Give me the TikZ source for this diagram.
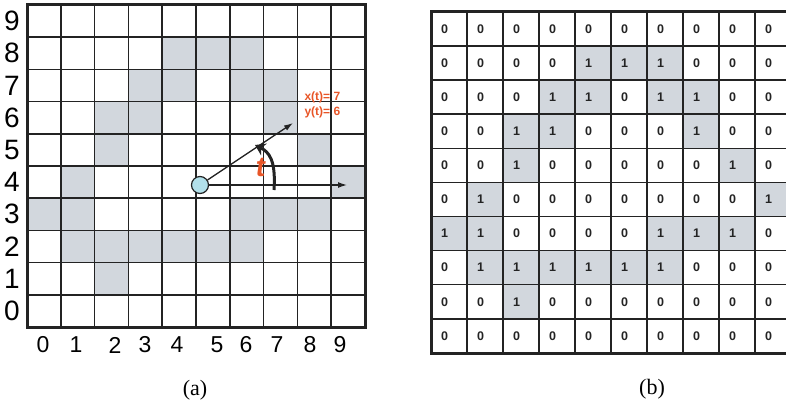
\documentclass[tikz,border=0pt]{standalone}
\usepackage{fontspec}
\setmainfont{Liberation Serif}
\setsansfont{Liberation Sans}
\usetikzlibrary{arrows.meta}

\definecolor{cellgray}{RGB}{210,215,221}
\definecolor{lineblack}{RGB}{35,35,35}
\definecolor{tred}{RGB}{232,86,40}
\definecolor{dotcyan}{RGB}{178,224,234}

\begin{document}
\begin{tikzpicture}[x=1pt, y=1pt, every node/.style={font=\sffamily},
  gridline/.style={lineblack, line width=1.6pt},
  border/.style={lineblack, line width=3pt},
  digit/.style={font=\sffamily\bfseries\fontsize{12.5}{12.5}\selectfont, text=lineblack},
  vec/.style={lineblack, line width=1.3pt, -{Latex[length=9pt, width=6pt]}}]
  \useasboundingbox (0,0) rectangle (786,405);

  % Occupied cells, top row first
  \def\cells{{0,0,0,0,0,0,0,0,0,0},{0,0,0,0,1,1,1,0,0,0},{0,0,0,1,1,0,1,1,0,0},
    {0,0,1,1,0,0,0,1,0,0},{0,0,1,0,0,0,0,0,1,0},{0,1,0,0,0,0,0,0,0,1},
    {1,1,0,0,0,0,1,1,1,0},{0,1,1,1,1,1,1,0,0,0},{0,0,1,0,0,0,0,0,0,0},
    {0,0,0,0,0,0,0,0,0,0}}

  % Left: the map
  \begin{scope}[shift={(27pt,78pt)}, x=33.8pt, y=32.2pt]
    \foreach \row [count=\r from 0] in \cells {
      \foreach \v [count=\c from 0] in \row {
        \ifnum\v=1 \fill[cellgray] (\c,9-\r) rectangle ++(1,1); \fi
      }
    }
    \foreach \i in {1,...,9} {
      \draw[gridline] (\i,0) -- (\i,10);
      \draw[gridline] (0,\i) -- (10,\i);
    }
    \draw[border] (0,0) rectangle (10,10);
    % Row numbers
    \foreach \j in {0,...,9}
      \node[font=\sffamily\fontsize{28}{28}\selectfont] (row\j) at (-0.45,\j+0.5) {\j};
  \end{scope}

  % Column numbers
  \foreach \x [count=\k from 0] in {43,76,115,145,177,217,246,277,310,340}
    \node[font=\sffamily\fontsize{23}{23}\selectfont] (col\k) at (\x,60) {\k};

  % Robot and its heading
  \node[circle, draw=lineblack, line width=1.2pt, fill=dotcyan, minimum size=17pt, inner sep=0pt] (src) at (200,220) {};
  \coordinate (hend) at (347,220);
  \coordinate (dend) at (293,282);
  \draw[vec] (src) -- (hend);
  \draw[vec] (src) -- (dend);
  \coordinate (a0) at (274,215);
  \coordinate (a1) at (255,260);
  \draw[lineblack, line width=3pt, -{Stealth[length=10pt, width=13pt]}] (a0) .. controls (276,245) and (269,253) .. (a1);
  \node[text=tred, font=\sffamily\bfseries\fontsize{28}{28}\selectfont, xslant=0.15] (tlab) at (261,238) {t};
  \node[anchor=west, text=tred, font=\sffamily\bfseries\fontsize{12}{12}\selectfont] (xt) at (301,308) {x(t)= 7};
  \node[anchor=west, text=tred, font=\sffamily\bfseries\fontsize{12}{12}\selectfont] (yt) at (301,293) {y(t)= 6};

  % Right: the same map as a matrix
  \begin{scope}[shift={(431pt,52pt)}, x=36pt, y=34.13pt]
    \foreach \row [count=\r from 0] in \cells {
      \foreach \v [count=\c from 0] in \row {
        \ifnum\v=1 \fill[cellgray] (\c,9-\r) rectangle ++(1,1); \fi
        \node[digit] (m\r-\c) at (\c+0.38,9.5-\r) {\v};
      }
    }
    \foreach \i in {1,...,9} {
      \draw[gridline, line width=1.4pt] (\i,0) -- (\i,10);
      \draw[gridline, line width=1.4pt] (0,\i) -- (10,\i);
    }
    \draw[border] (0,0) rectangle (10,10);
  \end{scope}

  % Captions
  \node[font=\rmfamily\fontsize{22}{22}\selectfont] (capa) at (195,15) {(a)};
  \node[font=\rmfamily\fontsize{22}{22}\selectfont] (capb) at (652,16) {(b)};
\end{tikzpicture}
\end{document}
